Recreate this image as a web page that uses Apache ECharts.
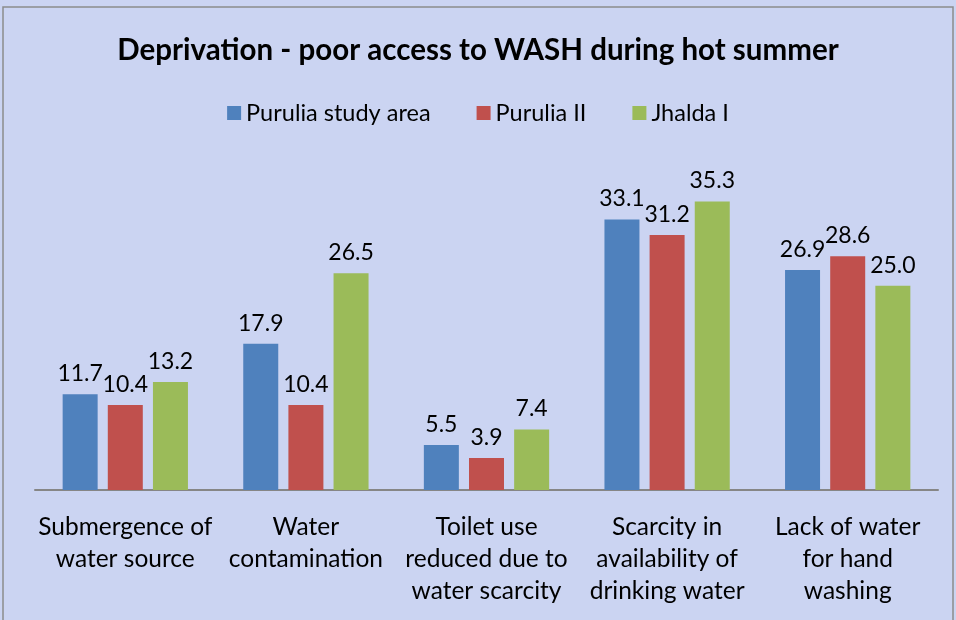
<!DOCTYPE html>
<html>
<head>
    <meta charset="utf-8">
    <title>Deprivation - poor access to WASH</title>
    <script src="https://cdn.jsdelivr.net/npm/echarts@6/dist/echarts.min.js"></script>
    <style>
        body { margin: 0; background: #fff; }
    </style>
</head>
<body>
    <div id="main" style="width: 956px;height:620px;"></div>

    <script type="text/javascript">
        // data
        var categories = [
            'Submergence of\nwater source',
            'Water\ncontamination',
            'Toilet use\nreduced due to\nwater scarcity',
            'Scarcity in\navailability of\ndrinking water',
            'Lack of water\nfor hand\nwashing'
        ];
        var seriesNames = ['Purulia study area', 'Purulia II', 'Jhalda I'];
        var puruliaStudy = [11.7, 17.9, 5.5, 33.1, 26.9];
        var puruliaII = [10.4, 10.4, 3.9, 31.2, 28.6];
        var jhaldaI = [13.2, 26.5, 7.4, 35.3, 25.0];
        var colors = ['#4F81BD', '#C0504D', '#9BBB59'];

        var font = 'Lato, "Open Sans", sans-serif';
        var myChart = echarts.init(document.getElementById('main'));

        function makeSeries(name, data, color) {
            return {
                name: name,
                type: 'bar',
                data: data,
                barWidth: 35,
                barGap: '29%',
                itemStyle: { color: color },
                label: {
                    show: true,
                    position: 'top',
                    distance: 9,
                    color: '#000',
                    fontFamily: font,
                    fontSize: 23,
                    formatter: function (p) { return p.value.toFixed(1); }
                }
            };
        }

        var option = {
            backgroundColor: '#cbd4f2',
            textStyle: { fontFamily: font },
            graphic: [{
                type: 'rect',
                shape: { x: 3, y: 7, width: 950, height: 620 },
                style: { fill: 'none', stroke: '#8c8c8c', lineWidth: 1.5 },
                silent: true
            }],
            title: {
                text: 'Deprivation - poor access to WASH during hot summer',
                left: 'center',
                top: 30,
                textStyle: {
                    fontFamily: font,
                    fontSize: 29.5,
                    fontWeight: 'bold',
                    color: '#000'
                }
            },
            legend: {
                data: seriesNames,
                top: 96,
                left: 'center',
                itemWidth: 14,
                itemHeight: 14,
                itemGap: 46,
                icon: 'rect',
                textStyle: { fontFamily: font, fontSize: 23.5, color: '#000' }
            },
            grid: {
                left: 35,
                right: 18,
                top: 163,
                bottom: 130,
                containLabel: false
            },
            xAxis: {
                type: 'category',
                data: categories,
                axisLine: { lineStyle: { color: '#868686', width: 2 } },
                axisTick: { show: false },
                axisLabel: {
                    interval: 0,
                    margin: 21,
                    color: '#000',
                    fontFamily: font,
                    fontSize: 24.5,
                    lineHeight: 32
                }
            },
            yAxis: {
                type: 'value',
                min: 0,
                max: 40,
                show: false,
                splitLine: { show: false }
            },
            series: [
                makeSeries(seriesNames[0], puruliaStudy, colors[0]),
                makeSeries(seriesNames[1], puruliaII, colors[1]),
                makeSeries(seriesNames[2], jhaldaI, colors[2])
            ]
        };

        myChart.setOption(option);
    </script>
</body>
</html>
